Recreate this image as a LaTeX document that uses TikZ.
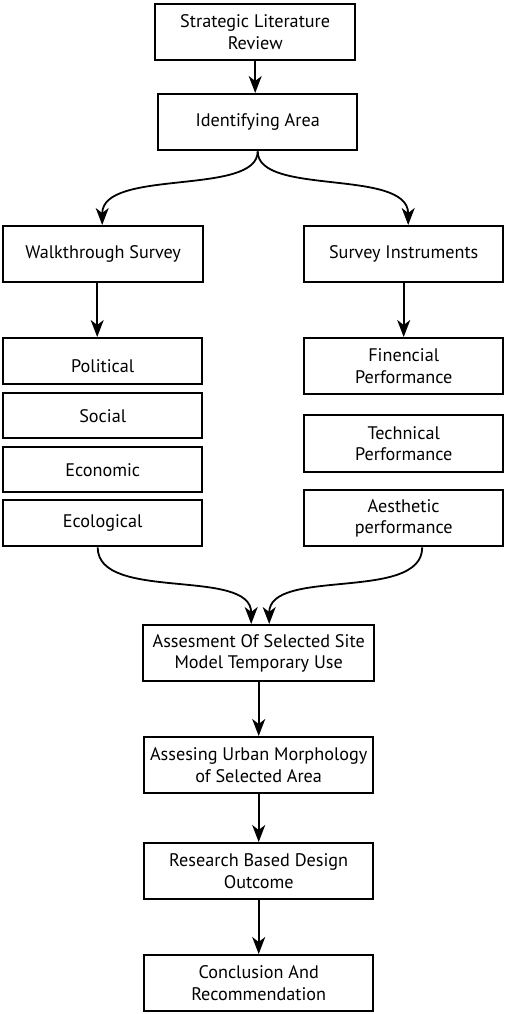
\documentclass[tikz,border=0pt]{standalone}
\usepackage{fontspec}
\setmainfont{PT Sans}
\usetikzlibrary{arrows.meta}
\begin{document}
\begin{tikzpicture}[x=1pt,y=-1pt,
  box/.style={draw=black,line width=2.4pt,fill=white,inner sep=0pt,align=center,
    font=\fontsize{18.2}{21.5}\selectfont,anchor=north west},
  conn/.style={line width=1.8pt,-{Stealth[length=17pt,width=13pt,inset=5pt]}}]
\useasboundingbox (0,0) rectangle (505,1014);
\newcommand\bx[6]{\node[box,minimum width=#4-#2,minimum height=#5-#3] (#1) at (#2,#3) {#6};}
\bx{slr}{154}{3}{354}{59}{Strategic Literature\\Review}
\bx{ida}{157}{93}{356}{149}{Identifying Area}
\bx{walk}{2}{225}{202}{281}{Walkthrough Survey}
\bx{inst}{303}{225}{502}{281}{Survey Instruments}
\bx{pol}{2}{337}{201}{383}{\raisebox{-11pt}[0pt][0pt]{Political}}
\bx{soc}{2}{392}{201}{437}{Social}
\bx{eco}{2}{446}{201}{491}{Economic}
\bx{ecl}{2}{499}{201}{545}{Ecological}
\bx{fin}{303}{337}{502}{393}{Finencial\\Performance}
\bx{tec}{303}{414}{502}{471}{Technical\\Performance}
\bx{aes}{303}{489}{502}{545}{Aesthetic\\performance}
\bx{ass}{142}{624}{373}{680}{Assesment Of Selected Site\\Model Temporary Use}
\bx{urb}{143}{736}{372}{792}{Assesing Urban Morphology\\of Selected Area}
\bx{res}{143}{842}{372}{898}{Research Based Design\\Outcome}
\bx{con}{143}{954}{372}{1010}{Conclusion And\\Recommendation}
\draw[conn] (slr.south) -- (slr.south|-ida.north);
\draw[conn] (ida.south) .. controls +(0,45) and +(0,-57) .. ([xshift=-1pt]walk.north);
\draw[conn] (ida.south) .. controls +(0,45) and +(0,-57) .. ([xshift=4.5pt]inst.north);
\draw[conn] ([xshift=-6pt]walk.south) -- ([xshift=-6pt]walk.south|-pol.north);
\draw[conn] (inst.south) -- (inst.south|-fin.north);
\draw[conn] ([xshift=-5pt]ecl.south) .. controls +(0,55) and +(0,-57) .. ([xshift=-7.5pt]ass.north);
\draw[conn] ([xshift=18.5pt]aes.south) .. controls +(0,55) and +(0,-57) .. ([xshift=10.5pt]ass.north);
\draw[conn] (ass.south) -- (ass.south|-urb.north);
\draw[conn] (urb.south) -- (urb.south|-res.north);
\draw[conn] (res.south) -- (res.south|-con.north);
\end{tikzpicture}
\end{document}
